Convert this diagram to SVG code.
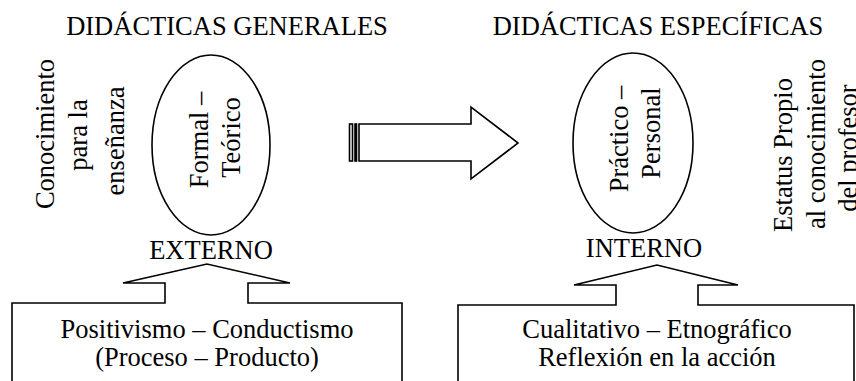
<svg xmlns="http://www.w3.org/2000/svg" width="856" height="381" viewBox="0 0 856 381">
<style>
text{font-family:"Liberation Serif","Times New Roman",serif;font-size:26.5px;fill:#000;text-anchor:middle}
.s{fill:#fff;stroke:#000;stroke-width:1.6;stroke-linejoin:miter}
.o{fill:none;stroke:#000;stroke-width:1.6;stroke-linejoin:miter}
</style>
<rect width="856" height="381" fill="#fff"/>
<g id="titulo-generales"><text x="227" y="35">DIDÁCTICAS GENERALES</text></g>
<g id="titulo-especificas"><text x="658" y="35">DIDÁCTICAS ESPECÍFICAS</text></g>
<g id="conocimiento-ensenanza">
<text transform="translate(54,134) rotate(-90)">Conocimiento</text>
<text transform="translate(87,135) rotate(-90)">para la</text>
<text transform="translate(124,141) rotate(-90)">enseñanza</text>
</g>
<g id="formal-teorico">
<ellipse class="s" cx="211" cy="145" rx="59" ry="90"/>
<text transform="translate(208,140) rotate(-90)">Formal –</text>
<text transform="translate(240,137.5) rotate(-90)">Teórico</text>
</g>
<g id="externo"><text x="211" y="259">EXTERNO</text></g>
<g id="practico-personal">
<ellipse class="s" cx="633" cy="143" rx="60" ry="90"/>
<text transform="translate(628,139) rotate(-90)">Práctico –</text>
<text transform="translate(660,133) rotate(-90)">Personal</text>
</g>
<g id="interno"><text x="644" y="257">INTERNO</text></g>
<g id="estatus">
<text transform="translate(792,155) rotate(-90)">Estatus Propio</text>
<text transform="translate(825,144) rotate(-90)">al conocimiento</text>
<text transform="translate(857,148) rotate(-90)">del profesor</text>
</g>
<g id="positivismo">
<path class="o" d="M12,381 V303 H165 V283 H123 L207,264 L290,283 H248 V303 H402 V381"/>
<text x="207" y="338">Positivismo – Conductismo</text>
<text x="207" y="366">(Proceso – Producto)</text>
</g>
<g id="cualitativo">
<path class="o" d="M458,381 V305 H616 V285 H574 L657,265 L738,285 H698 V305 H854 V381"/>
<text x="657" y="338">Cualitativo – Etnográfico</text>
<text x="657" y="366">Reflexión en la acción</text>
</g>
<g id="conectores">
<rect class="s" x="349.5" y="124" width="3" height="37"/>
<rect class="s" x="355" y="124" width="1.5" height="37"/>
<path class="s" d="M359,124 H471 V107 L518,143 L471,179 V161 H359 Z"/>
</g>
</svg>
